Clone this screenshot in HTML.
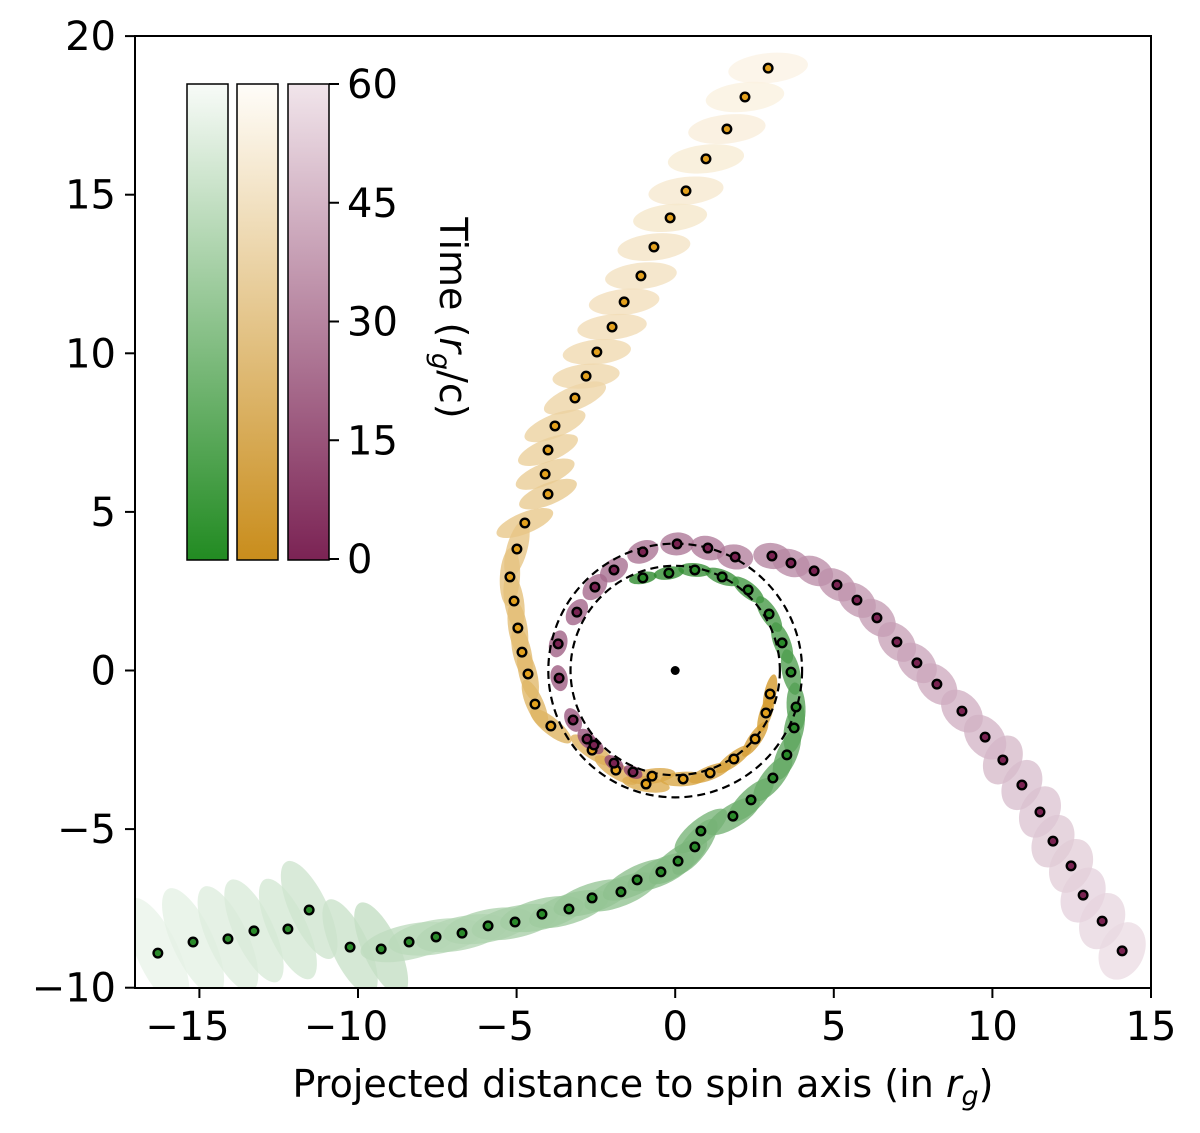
<!DOCTYPE html>
<html><head><meta charset="utf-8"><style>
html,body{margin:0;padding:0;background:#fff;}
svg{display:block;font-family:"DejaVu Sans","Liberation Sans",sans-serif;}
</style></head><body>
<svg id="chart" width="1200" height="1133" viewBox="0 0 1200 1133" xmlns="http://www.w3.org/2000/svg">
<defs>
<linearGradient id="gG" x1="0" y1="1" x2="0" y2="0"><stop offset="0" stop-color="#228B22"/><stop offset="1" stop-color="#f8fbf8"/></linearGradient>
<linearGradient id="gO" x1="0" y1="1" x2="0" y2="0"><stop offset="0" stop-color="#c98d1c"/><stop offset="1" stop-color="#fffdf9"/></linearGradient>
<linearGradient id="gP" x1="0" y1="1" x2="0" y2="0"><stop offset="0" stop-color="#7b2354"/><stop offset="1" stop-color="#f1e5eb"/></linearGradient>
<clipPath id="clip"><rect x="135" y="36" width="1016" height="952"/></clipPath>
</defs>
<g id="ellipses" clip-path="url(#clip)"></g>
<g id="circles"></g>
<g id="dots" clip-path="url(#clip)"></g>
<rect x="135" y="36" width="1016" height="952" fill="none" stroke="#000" stroke-width="2"/>
<g id="axes"></g>
<text x="643" y="1097" font-size="38" text-anchor="middle">Projected distance to spin axis (in <tspan font-style="italic">r</tspan><tspan font-style="italic" font-size="27" dy="8">g</tspan><tspan dy="-8">)</tspan></text>
<g>
<rect x="187" y="84" width="41" height="476" fill="url(#gG)" stroke="#000" stroke-width="1.5"/>
<rect x="237" y="84" width="41" height="476" fill="url(#gO)" stroke="#000" stroke-width="1.5"/>
<rect x="288" y="84" width="41" height="476" fill="url(#gP)" stroke="#000" stroke-width="1.5"/>
</g>
<g id="cbticks"></g>
<text transform="translate(440,318) rotate(90)" font-size="38" text-anchor="middle">Time (<tspan font-style="italic">r</tspan><tspan font-style="italic" font-size="27" dy="8">g</tspan><tspan dy="-8">/c)</tspan></text>
</svg>
<script>
const xTicks = [-15, -10, -5, 0, 5, 10, 15];
const yTicks = [-10, -5, 0, 5, 10, 15, 20];
const cbTicks = [0, 15, 30, 45, 60];
// series listed from outer (late, light) to inner (early, dark)
const greenX = [-16.31,-15.20,-14.10,-13.28,-12.21,-11.54,-10.25,-9.27,-8.39,-7.54,-6.72,-5.90,-5.05,-4.20,-3.35,-2.62,-1.71,-1.20,-0.45,0.09,0.62,0.81,1.82,2.39,3.08,3.52,3.75,3.81,3.65,3.37,2.96,2.30,1.48,0.62,-0.20,-1.02];
const greenY = [-8.91,-8.56,-8.46,-8.21,-8.15,-7.55,-8.72,-8.78,-8.56,-8.40,-8.28,-8.05,-7.93,-7.68,-7.52,-7.17,-6.98,-6.60,-6.35,-6.01,-5.56,-5.06,-4.59,-4.08,-3.39,-2.66,-1.81,-1.15,-0.05,0.87,1.78,2.54,2.95,3.17,3.07,2.92];
const orangeX = [2.93,2.20,1.63,0.97,0.34,-0.16,-0.67,-1.08,-1.61,-1.99,-2.47,-2.81,-3.16,-3.79,-4.01,-4.10,-4.01,-4.74,-4.99,-5.21,-5.08,-4.96,-4.83,-4.64,-4.42,-3.92,-2.62,-1.87,-0.92,-0.73,0.25,1.10,1.85,2.52,2.86,2.99];
const orangeY = [18.99,18.08,17.07,16.13,15.12,14.27,13.35,12.44,11.62,10.83,10.04,9.28,8.59,7.71,6.95,6.19,5.56,4.65,3.83,2.95,2.19,1.34,0.58,-0.11,-1.06,-1.75,-2.51,-3.14,-3.58,-3.33,-3.42,-3.23,-2.79,-2.16,-1.34,-0.74];
const purpleX = [14.09,13.46,12.86,12.48,11.91,11.50,10.93,10.33,9.77,9.04,8.25,7.62,6.99,6.36,5.73,5.10,4.38,3.65,3.05,1.89,1.03,0.06,-1.02,-1.93,-2.53,-3.10,-3.69,-3.66,-3.22,-2.78,-2.56,-1.93,-1.33];
const purpleY = [-8.84,-7.90,-7.08,-6.16,-5.38,-4.46,-3.61,-2.82,-2.10,-1.28,-0.43,0.24,0.90,1.66,2.22,2.70,3.14,3.39,3.61,3.58,3.86,3.99,3.74,3.17,2.63,1.84,0.84,-0.24,-1.56,-2.16,-2.35,-2.92,-3.20];
const circleRadii = [4.0, 3.3];

const NS = "http://www.w3.org/2000/svg";
const X0 = 675.2, Y0 = 670.5, S = 31.72;
function sx(v){ return X0 + v*S; }
function sy(v){ return Y0 - v*S; }
function cbY(t){ return 559 - t/60*475; }
function mk(tag, parent, attrs){ const e=document.createElementNS(NS,tag); for(const k in attrs) e.setAttribute(k,attrs[k]); parent.appendChild(e); return e; }
function lerpCol(c1,c2,f){ const a=[1,3,5].map(i=>parseInt(c1.substr(i,2),16)), b=[1,3,5].map(i=>parseInt(c2.substr(i,2),16)); return "rgb("+a.map((v,i)=>Math.round(v+(b[i]-v)*f)).join(",")+")"; }

const axes=document.getElementById('axes');
xTicks.forEach(v=>{
  const l=mk('line',axes,{x1:sx(v),x2:sx(v),y1:988,y2:998,stroke:'#000','stroke-width':2});
  
  
  const t=mk('text',axes,{x:sx(v)-(v<0?12:0),y:1040,'font-size':40,'text-anchor':'middle'});
  t.textContent = v<0 ? '\u2212'+Math.abs(v) : String(v);
  
  
});
yTicks.forEach(v=>{
  const l=mk('line',axes,{x1:125,x2:135,y1:sy(v),y2:sy(v),stroke:'#000','stroke-width':2});
  
  
  const t=mk('text',axes,{x:116,y:sy(v)+14,'font-size':40,'text-anchor':'end'});
  t.textContent = v<0 ? '\u2212'+Math.abs(v) : String(v);
  
  
});
const cbt=document.getElementById('cbticks');
cbTicks.forEach(v=>{
  const l=mk('line',cbt,{x1:329,x2:339,y1:cbY(v),y2:cbY(v),stroke:'#000','stroke-width':2});
  
  
  const t=mk('text',cbt,{x:347,y:cbY(v)+14,'font-size':40});
  t.textContent=String(v);
  
  
});

const series=[
  {name:'green',X:greenX,Y:greenY,dark:'#2e8b2e',light:'#f4f9f4',dot:'#2a8a2a',rIn:[14,6],rOut:[60,21]},
  {name:'orange',X:orangeX,Y:orangeY,dark:'#d49a2c',light:'#fdf8ef',dot:'#e3a11e',rIn:[20,6],rOut:[40,15]},
  {name:'purple',X:purpleX,Y:purpleY,dark:'#8e4470',light:'#f1e5eb',dot:'#7a2352',rIn:[10,6],rOut:[30,22]}
];
const eg=document.getElementById('ellipses'), dg=document.getElementById('dots');
series.forEach(s=>{
  const n=s.X.length;
  for(let i=0;i<n;i++){
    const f=1-i/(n-1); // 1 = outer/light, 0 = inner/dark
    const col=lerpCol(s.dark,s.light,Math.min(1,f*0.95));
    const a=Math.max(0,i-1), b=Math.min(n-1,i+1);
    let ang=Math.atan2(sy(s.Y[b])-sy(s.Y[a]), sx(s.X[b])-sx(s.X[a]))*180/Math.PI;
    if(s.name==='green' && s.X[i]<-9) ang=65;
    if(s.name==='orange' && s.Y[i]>9) ang=-6;
    else if(s.name==='orange' && s.Y[i]>4.5) ang=-22;
    if(s.name==='purple' && s.X[i]>10) ang=-65;
    const rx=s.rIn[0]+(s.rOut[0]-s.rIn[0])*f, ry=s.rIn[1]+(s.rOut[1]-s.rIn[1])*f;
    const e=mk('ellipse',eg,{cx:sx(s.X[i]),cy:sy(s.Y[i]),rx:rx,ry:ry,fill:col,'fill-opacity':0.8,transform:`rotate(${ang} ${sx(s.X[i])} ${sy(s.Y[i])})`});
    
    
  }
});
circleRadii.forEach(r=>{
  const c=mk('ellipse',document.getElementById('circles'),{cx:sx(0),cy:sy(0),rx:r*S,ry:r*S,fill:'none',stroke:'#000','stroke-width':2.2,'stroke-dasharray':'8 5'});
  
  
});
const cdot=mk('circle',dg,{cx:sx(0),cy:sy(0),r:4.5,fill:'#000'});


series.forEach(s=>{
  for(let i=0;i<s.X.length;i++){
    const c=mk('circle',dg,{cx:sx(s.X[i]),cy:sy(s.Y[i]),r:4.3,fill:s.dot,stroke:'#000','stroke-width':2.4});
    
    
  }
});
</script>
</body></html>
